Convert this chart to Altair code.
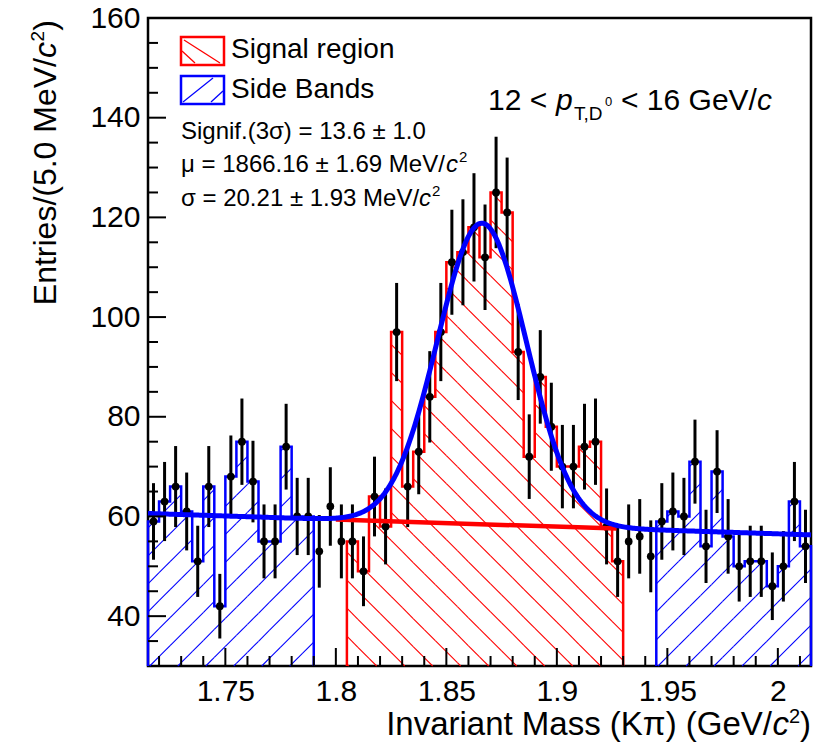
import altair as alt
import numpy as np
import pandas as pd

FONT = "Liberation Sans"
BIN_WIDTH = 0.005
X_MIN, X_MAX = 1.715, 2.015
Y_MIN, Y_MAX = 30, 160
W, H = 663, 648

# ---- histogram contents (entries per 5 MeV bin) ----
left_sb_start = 1.715
left_sb_counts = [59, 63, 66, 61, 51, 66, 42, 68, 75, 67, 55, 55, 74, 60, 60]
gap1_start = 1.790
gap1_counts = [53, 62, 55]
signal_start = 1.805
signal_counts = [55, 49, 64, 58, 97, 66, 73, 84, 97, 111, 113, 118, 112, 125,
                 121, 93, 72, 88, 78, 70, 70, 74, 75, 58, 51]
gap2_start = 1.930
gap2_counts = [55, 56, 52]
right_sb_start = 1.945
right_sb_counts = [59, 61, 60, 71, 54, 69, 56, 50, 51, 51, 46, 50, 63, 54]

# ---- fit (gaussian + linear background) ----
fit_mu = 1.86616
fit_sigma = 0.02021
fit_amp = 60.4
bkg_left = 60.6   # background at 1.715
bkg_right = 56.3  # background at 2.015
bkg_line_range = [1.800, 1.927]

# ---- axis ticks ----
x_major = [1.75, 1.80, 1.85, 1.90, 1.95, 2.00]
x_minor = [1.72, 1.73, 1.74, 1.76, 1.77, 1.78, 1.79, 1.81, 1.82, 1.83, 1.84,
           1.86, 1.87, 1.88, 1.89, 1.91, 1.92, 1.93, 1.94, 1.96, 1.97, 1.98,
           1.99, 2.01]
y_major = [40, 60, 80, 100, 120, 140, 160]
y_minor = [35, 45, 50, 55, 65, 70, 75, 85, 90, 95, 105, 110, 115, 125, 130,
           135, 145, 150, 155]

# ---------------------------------------------------------------
XS = alt.Scale(domain=[X_MIN, X_MAX], nice=False, zero=False)
YS = alt.Scale(domain=[Y_MIN, Y_MAX], nice=False, zero=False)
X_AXIS = alt.Axis(values=x_major, format="~g", labelFontSize=30, labelFont=FONT,
                  labelColor="black", labelPadding=10, ticks=False, domain=False,
                  grid=False, labelFlush=False, labelOverlap=False, title="")
Y_AXIS = alt.Axis(values=y_major, labelFontSize=30, labelFont=FONT,
                  labelColor="black", labelPadding=8, ticks=False, domain=False,
                  grid=False, labelFlush=False, labelOverlap=False, title="")


def X(f):
    return alt.X(f, type="quantitative", scale=XS, axis=X_AXIS)


def Y(f):
    return alt.Y(f, type="quantitative", scale=YS, axis=Y_AXIS)


# data points
pts = []
for start, counts in [(left_sb_start, left_sb_counts), (gap1_start, gap1_counts),
                      (signal_start, signal_counts), (gap2_start, gap2_counts),
                      (right_sb_start, right_sb_counts)]:
    for i, c in enumerate(counts):
        e = float(np.sqrt(c))
        pts.append({"x": start + (i + 0.5) * BIN_WIDTH, "y": c,
                    "lo": c - e, "hi": c + e})
pts = pd.DataFrame(pts)


def outline(start, counts, group):
    rows = [{"x": start, "y": Y_MIN, "i": 0, "g": group}]
    for i, c in enumerate(counts):
        rows.append({"x": start + i * BIN_WIDTH, "y": c, "i": i + 1, "g": group})
    rows.append({"x": start + len(counts) * BIN_WIDTH, "y": Y_MIN,
                 "i": len(counts) + 1, "g": group})
    return rows


PX_X = W / (X_MAX - X_MIN)
PX_Y = H / (Y_MAX - Y_MIN)
SLOPE = PX_X / PX_Y           # 45 degree on screen
SPACING = 28 / PX_X           # hatch spacing


def hatch(start, counts, direction):
    segs = []
    x_end = start + len(counts) * BIN_WIDTH
    span = (max(counts) - Y_MIN) / SLOPE
    ks = np.arange(-int(span / SPACING) - 3, int((x_end - start + span) / SPACING) + 3)
    for k in ks:
        c = start + 0.0008 + k * SPACING
        for i, h in enumerate(counts):
            x0 = start + i * BIN_WIDTH
            x1 = x0 + BIN_WIDTH
            if direction == "/":
                a = max(x0, c)
                b = min(x1, c + (h - Y_MIN) / SLOPE)
                if b > a:
                    segs.append({"x": a, "y": Y_MIN + SLOPE * (a - c),
                                 "x2": b, "y2": Y_MIN + SLOPE * (b - c)})
            else:
                a = max(x0, c - (h - Y_MIN) / SLOPE)
                b = min(x1, c)
                if b > a:
                    segs.append({"x": a, "y": Y_MIN + SLOPE * (c - a),
                                 "x2": b, "y2": Y_MIN + SLOPE * (c - b)})
    return segs


blue_hatch = pd.DataFrame(hatch(left_sb_start, left_sb_counts, "/") +
                          hatch(right_sb_start, right_sb_counts, "/"))
red_hatch = pd.DataFrame(hatch(signal_start, signal_counts, "\\"))
blue_out = pd.DataFrame(outline(left_sb_start, left_sb_counts, "L") +
                        outline(right_sb_start, right_sb_counts, "R"))
red_out = pd.DataFrame(outline(signal_start, signal_counts, "S"))

xf = np.linspace(X_MIN, X_MAX, 500)
bk = bkg_left + (bkg_right - bkg_left) * (xf - X_MIN) / (X_MAX - X_MIN)
fit_df = pd.DataFrame({"x": xf, "y": bk + fit_amp * np.exp(-0.5 * ((xf - fit_mu) / fit_sigma) ** 2)})
bl = np.array(bkg_line_range)
bkg_df = pd.DataFrame({"x": bl, "y": bkg_left + (bkg_right - bkg_left) * (bl - X_MIN) / (X_MAX - X_MIN)})

layers = []
layers.append(alt.Chart(blue_hatch).mark_rule(color="#0000ff", strokeWidth=1.1)
              .encode(x=X("x"), y=Y("y"), x2="x2", y2="y2"))
layers.append(alt.Chart(red_hatch).mark_rule(color="#ff0000", strokeWidth=1.1)
              .encode(x=X("x"), y=Y("y"), x2="x2", y2="y2"))
layers.append(alt.Chart(blue_out).mark_line(color="#0000ff", strokeWidth=2.5,
                                            interpolate="step-after")
              .encode(x=X("x"), y=Y("y"), order="i:Q", detail="g:N"))
layers.append(alt.Chart(red_out).mark_line(color="#ff0000", strokeWidth=2.5,
                                           interpolate="step-after")
              .encode(x=X("x"), y=Y("y"), order="i:Q", detail="g:N"))
layers.append(alt.Chart(pts).mark_rule(color="black", strokeWidth=3)
              .encode(x=X("x"), y=Y("lo"), y2="hi"))
layers.append(alt.Chart(pts).mark_circle(color="black", size=60, opacity=1)
              .encode(x=X("x"), y=Y("y")))
layers.append(alt.Chart(bkg_df).mark_line(color="#ff0000", strokeWidth=4.5)
              .encode(x=X("x"), y=Y("y")))
layers.append(alt.Chart(fit_df).mark_line(color="#0000ff", strokeWidth=5)
              .encode(x=X("x"), y=Y("y")))

# ticks (inward)
for vals, ln in [(x_major, 18), (x_minor, 10)]:
    layers.append(alt.Chart(pd.DataFrame({"x": vals})).mark_rule(color="black", strokeWidth=2)
                  .encode(x=X("x"), y=alt.value(H), y2=alt.value(H - ln)))
for vals, ln in [(y_major, 18), (y_minor, 10)]:
    layers.append(alt.Chart(pd.DataFrame({"y": vals})).mark_rule(color="black", strokeWidth=2)
                  .encode(y=Y("y"), x=alt.value(0), x2=alt.value(ln)))

one = pd.DataFrame({"a": [0]})


def rect(x, x2, y, y2, col):
    return alt.Chart(one).mark_rect(fillOpacity=0, stroke=col, strokeWidth=2.5).encode(
        x=alt.value(x), x2=alt.value(x2), y=alt.value(y), y2=alt.value(y2))


def seg(x, y, x2, y2, col):
    return alt.Chart(one).mark_rule(color=col, strokeWidth=1.3).encode(
        x=alt.value(x), y=alt.value(y), x2=alt.value(x2), y2=alt.value(y2))


def txt(t, x, y, size, italic=False, align="left", angle=0):
    return alt.Chart(one).mark_text(text=t, font=FONT, fontSize=size, align=align,
                                    baseline="alphabetic", color="black", angle=angle,
                                    fontStyle="italic" if italic else "normal").encode(
        x=alt.value(x), y=alt.value(y))


# axis titles (with italic c and superscript 2)
XT_Y = 717
layers += [txt(")", W, XT_Y, 33, align="right"),
           txt("2", W - 11, XT_Y - 12, 20, align="right"),
           txt("c", W - 22, XT_Y, 33, italic=True, align="right"),
           txt("Invariant Mass (Kπ) (GeV/", W - 39, XT_Y, 33, align="right")]
YT_X = -92
layers += [txt(")", YT_X, 2, 32, align="right", angle=270),
           txt("2", YT_X - 12, 13, 19, align="right", angle=270),
           txt("c", YT_X, 24, 32, italic=True, align="right", angle=270),
           txt("Entries/(5.0 MeV/", YT_X, 40, 32, align="right", angle=270)]

# legend
layers += [rect(33, 76, 19, 47, "#ff0000"), rect(33, 76, 58, 86, "#0000ff"),
           seg(36, 22, 72, 45, "#ff0000"), seg(34, 33, 47, 45, "#ff0000"),
           seg(35, 84, 65, 60, "#0000ff"), seg(63, 84, 75, 73, "#0000ff"),
           txt("Signal region", 83, 40, 28), txt("Side Bands", 83, 80, 28)]

# kinematic label
layers += [txt("12 <", 340, 92, 30), txt("p", 408, 92, 30, italic=True),
           txt("T,D", 426, 102, 19), txt("0", 457, 88, 13),
           txt("< 16 GeV/", 473, 92, 30), txt("c", 609, 92, 30, italic=True)]

# fit info
layers += [txt("Signif.(3σ) = 13.6 ± 1.0", 33, 121, 24),
           txt("μ = 1866.16 ± 1.69 MeV/", 33, 154, 24),
           txt("c", 298, 154, 24, italic=True), txt("2", 311, 144, 15),
           txt("σ = 20.21 ± 1.93 MeV/", 33, 188, 24),
           txt("c", 271, 188, 24, italic=True), txt("2", 284, 178, 15)]

chart = alt.layer(*layers).properties(
    width=W, height=H,
    autosize=alt.AutoSizeParams(type="none"),
    padding={"left": 148, "top": 18, "right": 23, "bottom": 83},
    background="white",
).configure_view(stroke="black", strokeWidth=2.5)

chart.save("out.html", embed_options={"renderer": "svg", "actions": False})
